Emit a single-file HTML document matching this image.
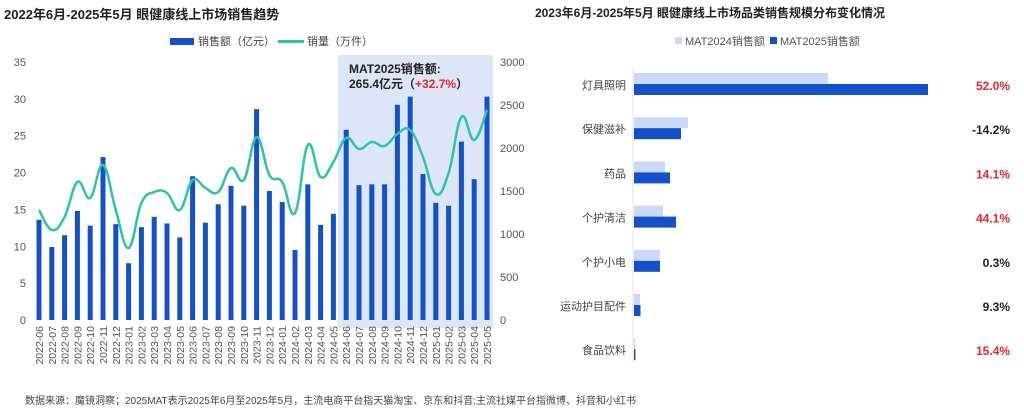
<!DOCTYPE html>
<html><head><meta charset="utf-8">
<style>
body{margin:0;background:#fff;width:1024px;height:416px;overflow:hidden;font-family:"Liberation Sans","Noto Sans CJK SC",sans-serif;}
svg{display:block}
</style></head><body>
<svg id="c" width="1024" height="416" xmlns="http://www.w3.org/2000/svg" font-family="Liberation Sans, Noto Sans CJK SC, sans-serif">
<text x="4" y="19" font-size="13" font-weight="bold" fill="#222">2022年6月-2025年5月 眼健康线上市场销售趋势</text>
<rect x="338" y="55" width="155" height="273" fill="#dde6f6"/>
<text x="349" y="73" font-size="12" font-weight="bold" fill="#222">MAT2025销售额:</text>
<text x="349" y="88" font-size="12" font-weight="bold" fill="#222">265.4亿元（<tspan fill="#e8262d">+32.7%</tspan>）</text>
<rect x="170" y="38" width="24" height="7" fill="#1450c8"/>
<text x="198" y="45" font-size="11" fill="#444">销售额（亿元）</text>
<line x1="278" y1="41.5" x2="304" y2="41.5" stroke="#2ec4a8" stroke-width="3"/>
<text x="307" y="45" font-size="11" fill="#444">销量（万件）</text>
<g id="left"></g>
<text x="710" y="17" font-size="12" font-weight="bold" fill="#222" text-anchor="middle">2023年6月-2025年5月 眼健康线上市场品类销售规模分布变化情况</text>
<rect x="675" y="37" width="7" height="7" fill="#c9d9f7"/>
<text x="685" y="45" font-size="11" fill="#555">MAT2024销售额</text>
<rect x="770" y="37" width="7" height="7" fill="#1450c8"/>
<text x="780" y="45" font-size="11" fill="#555">MAT2025销售额</text>
<line x1="633" y1="68" x2="633" y2="362" stroke="#dde4ee" stroke-width="1"/>
<g id="right"></g>
<text x="25" y="404" font-size="10" fill="#444">数据来源：魔镜洞察；2025MAT表示2025年6月至2025年5月，主流电商平台指天猫淘宝、京东和抖音;主流社媒平台指微博、抖音和小红书</text>
</svg>
<script>
const months=[];for(let y=2022,m=6;months.length<36;){months.push(y+'-'+String(m).padStart(2,'0'));m++;if(m>12){m=1;y++;}}
const salesValues=[13.6,9.9,11.5,14.8,12.8,22.1,13.0,7.7,12.6,14.0,13.1,11.2,19.5,13.2,15.7,18.2,15.5,28.6,17.5,16.0,9.5,18.4,12.9,14.4,25.8,18.3,18.4,18.4,29.2,30.3,19.8,15.9,15.5,24.2,19.1,30.3];
const volumeValues=[1279,1047,1198,1605,1419,1802,1279,837,1360,1488,1477,1279,1628,1535,1488,1767,1628,2128,1686,1605,1244,2035,1663,1837,2116,1988,2070,2023,2163,2209,1895,1465,1709,2360,2093,2442];
const leftTicks=[0,5,10,15,20,25,30,35];
const rightTicks=[0,500,1000,1500,2000,2500,3000];
const categories=['灯具照明','保健滋补','药品','个护清洁','个护小电','运动护目配件','食品饮料'];
const mat2024=[194,54,31,29,26,6,1.2];
const mat2025=[294,47,36,42,26,6.5,1.5];
const growthLabels=['52.0%','-14.2%','14.1%','44.1%','0.3%','9.3%','15.4%'];
const growthRed=[true,false,true,true,false,false,true];
const NS='http://www.w3.org/2000/svg';
function mk(t,a,p){const e=document.createElementNS(NS,t);for(const k in a)e.setAttribute(k,a[k]);p.appendChild(e);return e;}
const L=document.getElementById('left'),R=document.getElementById('right');
const y0=320,y1=62;
const yL=v=>y0-(v/35)*(y0-y1);
const yR=v=>y0-(v/3000)*(y0-y1);
const xM=i=>39+i*12.8;
leftTicks.forEach(t=>{const e=mk('text',{x:26,y:yL(t)+4,'font-size':11,fill:'#555','text-anchor':'end'},L);e.textContent=t;

});
rightTicks.forEach(t=>{const e=mk('text',{x:500,y:yR(t)+4,'font-size':11,fill:'#555'},L);e.textContent=t;

});
salesValues.forEach((v,i)=>{const r=mk('rect',{x:xM(i)-2.5,y:yL(v),width:5,height:y0-yL(v),fill:'#1450c8'},L);

});
months.forEach((m,i)=>{const x=xM(i)+4,y=326;const t=mk('text',{x:x,y:y,'font-size':10.5,fill:'#555','text-anchor':'end',transform:`rotate(-90 ${x} ${y})`},L);t.textContent=m;

});
const pts=volumeValues.map((v,i)=>[xM(i),yR(v)]);
let d='M'+pts[0][0]+','+pts[0][1];
for(let i=0;i<pts.length-1;i++){const p0=pts[i-1]||pts[i],p1=pts[i],p2=pts[i+1],p3=pts[i+2]||p2;const k=0.2;
d+=` C${p1[0]+(p2[0]-p0[0])*k},${p1[1]+(p2[1]-p0[1])*k} ${p2[0]-(p3[0]-p1[0])*k},${p2[1]-(p3[1]-p1[1])*k} ${p2[0]},${p2[1]}`;}
const ln=mk('path',{d:d,fill:'none',stroke:'#2ec4a8','stroke-width':2.5},L);


const xs=v=>633+v;
const rowY=i=>85+i*44.2;
categories.forEach((c,i)=>{const cy=rowY(i);
const t=mk('text',{x:626,y:cy+4,'font-size':11,fill:'#444','text-anchor':'end'},R);t.textContent=c;


const a=mk('rect',{x:634,y:cy-12,width:xs(mat2024[i])-633,height:11,fill:'#c9d9f7'},R);


const b=mk('rect',{x:634,y:cy-1,width:xs(mat2025[i])-633,height:11,fill:'#1450c8'},R);


const g=mk('text',{x:1010,y:cy+5,'font-size':12,'font-weight':'bold',fill:growthRed[i]?'#e8262d':'#222','text-anchor':'end'},R);g.textContent=growthLabels[i];

});
</script>
</body></html>
